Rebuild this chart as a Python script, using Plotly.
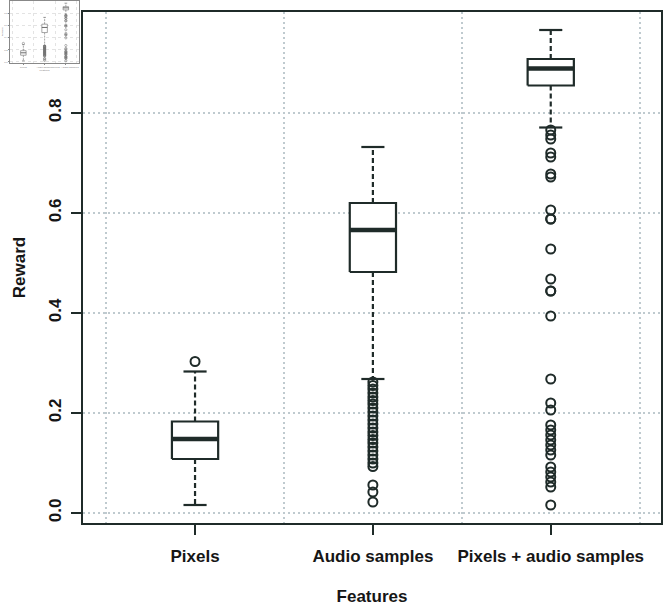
import plotly.graph_objects as go

# ---- data ----
categories = ["Pixels", "Audio samples", "Pixels + audio samples"]
lower_whisker = [0.016, 0.268, 0.771]
q1 = [0.108, 0.482, 0.855]
median = [0.148, 0.566, 0.889]
q3 = [0.183, 0.620, 0.908]
upper_whisker = [0.283, 0.732, 0.966]

outliers_pixels = [0.303]
outliers_audio = [0.262, 0.255, 0.248, 0.240, 0.232, 0.225, 0.218, 0.210, 0.202,
                  0.194, 0.186, 0.178, 0.170, 0.162, 0.155, 0.147, 0.140, 0.132,
                  0.124, 0.116, 0.108, 0.100, 0.093, 0.056, 0.042, 0.022]
outliers_both = [0.766, 0.756, 0.748, 0.720, 0.712, 0.678, 0.672, 0.606, 0.588,
                 0.588, 0.528, 0.468, 0.444, 0.444, 0.394, 0.268, 0.220, 0.206,
                 0.176, 0.166, 0.156, 0.146, 0.136, 0.126, 0.116, 0.092, 0.082,
                 0.072, 0.062, 0.052, 0.016]
outliers = [outliers_pixels, outliers_audio, outliers_both]

y_ticks = [0.0, 0.2, 0.4, 0.6, 0.8]
y_ticktext = ["0.0", "0.2", "0.4", "0.6", "0.8"]

W, H = 666, 608
DARK = "#1f2b29"
TXT = "#161616"
GRID = "#bfcacf"

fig = go.Figure()


def add_boxes(xa, ya, lw, mlw, msize, mlinew, color, dash):
    half = 0.13
    staple = 0.065
    for i, cat in enumerate(categories):
        c = i + 1
        # whiskers (dashed)
        fig.add_trace(go.Scatter(
            x=[c, c, None, c, c], y=[q3[i], upper_whisker[i], None, q1[i], lower_whisker[i]],
            mode="lines", line=dict(color=color, width=lw, dash=dash),
            xaxis=xa, yaxis=ya, showlegend=False, hoverinfo="skip"))
        # staples
        fig.add_trace(go.Scatter(
            x=[c - staple, c + staple, None, c - staple, c + staple],
            y=[upper_whisker[i], upper_whisker[i], None, lower_whisker[i], lower_whisker[i]],
            mode="lines", line=dict(color=color, width=lw),
            xaxis=xa, yaxis=ya, showlegend=False, hoverinfo="skip"))
        # box
        fig.add_trace(go.Scatter(
            x=[c - half, c + half, c + half, c - half, c - half],
            y=[q1[i], q1[i], q3[i], q3[i], q1[i]],
            mode="lines", line=dict(color=color, width=lw),
            fill="toself", fillcolor="white",
            xaxis=xa, yaxis=ya, showlegend=False, hoverinfo="skip"))
        # median
        fig.add_trace(go.Scatter(
            x=[c - half, c + half], y=[median[i], median[i]],
            mode="lines", line=dict(color=color, width=mlw),
            xaxis=xa, yaxis=ya, showlegend=False, hoverinfo="skip"))
        # outliers
        fig.add_trace(go.Scatter(
            x=[c] * len(outliers[i]), y=outliers[i], mode="markers",
            marker=dict(symbol="circle-open", size=msize, color=color,
                        line=dict(width=mlinew, color=color)),
            xaxis=xa, yaxis=ya, showlegend=False, hoverinfo="skip"))


add_boxes("x", "y", 2.2, 4.5, 9, 2, DARK, "5px,3px")
add_boxes("x2", "y2", 0.6, 1, 2.2, 0.5, "#6a6a6a", "2px,1px")

x0, x1 = 83, 661
y0, y1 = 12, 523
ix0, ix1, iy0, iy1 = 10, 79, 1, 63

FONT = "Liberation Sans, Arial, sans-serif"

fig.update_layout(
    width=W, height=H,
    margin=dict(l=0, r=0, t=0, b=0),
    paper_bgcolor="white", plot_bgcolor="white",
    font=dict(family=FONT, size=17, color=TXT, weight="bold"),
    xaxis=dict(
        domain=[x0 / W, x1 / W], range=[0.37, 3.62], anchor="y",
        tickmode="array", tickvals=[1, 2, 3], ticktext=categories,
        tickfont=dict(family=FONT, size=17, color=TXT, weight="bold"),
        ticks="outside", ticklen=10, tickwidth=2.2, tickcolor=DARK,
        showline=True, linewidth=2.2, linecolor=DARK, mirror=True,
        showgrid=False, zeroline=False, automargin=False,
        ticklabelstandoff=6,
        minor=dict(tickmode="array", tickvals=[0.5, 1.5, 2.5, 3.5], showgrid=True,
                   gridcolor=GRID, griddash="2px,3px", gridwidth=1.5, ticks=""),
        title=dict(text="Features", standoff=26,
                   font=dict(family=FONT, size=17, color=TXT, weight="bold")),
    ),
    yaxis=dict(
        domain=[1 - y1 / H, 1 - y0 / H], range=[-0.02, 1.002], anchor="x",
        tickmode="array", tickvals=y_ticks, ticktext=y_ticktext, tickangle=-90,
        tickfont=dict(family=FONT, size=17, color=TXT, weight="bold"),
        ticks="outside", ticklen=10, tickwidth=2.2, tickcolor=DARK,
        showline=True, linewidth=2.2, linecolor=DARK, mirror=True,
        showgrid=True, gridcolor=GRID, griddash="2px,3px", gridwidth=1.5,
        zeroline=False, automargin=False, ticklabelstandoff=3,
        minor=dict(tickmode="array", tickvals=[1.0], showgrid=True,
                   gridcolor=GRID, griddash="2px,3px", gridwidth=1.5, ticks=""),
        title=dict(text="Reward", standoff=16,
                   font=dict(family=FONT, size=17, color=TXT, weight="bold")),
    ),
    xaxis2=dict(
        domain=[ix0 / W, ix1 / W], range=[0.37, 3.62], anchor="y2",
        tickmode="array", tickvals=[1, 2, 3], ticktext=categories, tickangle=0,
        tickfont=dict(size=2.5, color="#777", weight="normal"), ticks="outside", ticklen=1,
        tickwidth=0.5, tickcolor="#888",
        showline=True, linewidth=0.6, linecolor="#888", mirror=True,
        showgrid=False, zeroline=False, automargin=False,
        minor=dict(tickmode="array", tickvals=[0.5, 1.5, 2.5, 3.5], showgrid=True,
                   gridcolor="#e3e3e3", griddash="dot", gridwidth=0.5, ticks=""),
        title=dict(text="Features", font=dict(size=2.5, color="#777", weight="normal"), standoff=1),
    ),
    yaxis2=dict(
        domain=[1 - iy1 / H, 1 - iy0 / H], range=[-0.02, 1.002], anchor="x2",
        tickmode="array", tickvals=y_ticks, ticktext=y_ticktext, tickangle=0,
        tickfont=dict(size=2.5, color="#777", weight="normal"), ticks="outside", ticklen=1,
        tickwidth=0.5, tickcolor="#888",
        showline=True, linewidth=0.6, linecolor="#888", mirror=True,
        showgrid=True, gridcolor="#e3e3e3", griddash="dot", gridwidth=0.5,
        zeroline=False, automargin=False,
        title=dict(text="Reward", font=dict(size=2.5, color="#777", weight="normal"), standoff=1),
    ),
    showlegend=False,
)

fig.write_html("out.html")
